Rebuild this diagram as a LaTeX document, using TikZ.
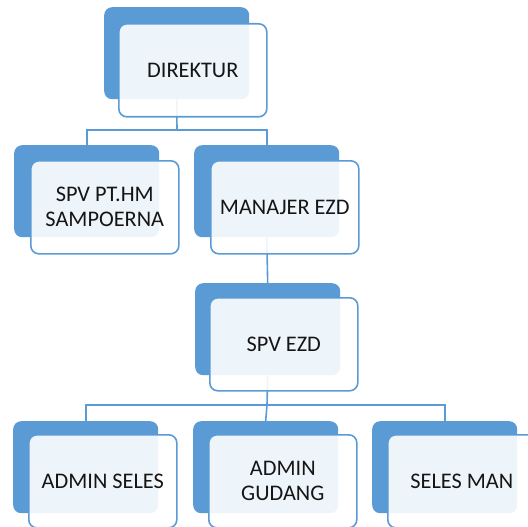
\documentclass[tikz,border=0pt]{standalone}
\usepackage{fontspec}
\setmainfont{Carlito}
\definecolor{accblue}{HTML}{5B9BD5}
\definecolor{txt}{HTML}{151515}
\begin{document}
\begin{tikzpicture}[x=1pt,y=-1pt,
  backbox/.style={fill=accblue, draw=none, rounded corners=8pt, minimum width=145pt, minimum height=92pt, anchor=north west, inner sep=0pt},
  frontbox/.style={fill=white, fill opacity=0.9, text opacity=1, draw=accblue, line width=1.6pt, rounded corners=8pt, minimum width=148pt, minimum height=93pt, anchor=north west, inner sep=0pt, align=center, text=txt, font=\fontsize{22.3}{25}\selectfont},
  conn/.style={draw=accblue, line width=1.6pt}]
\useasboundingbox (0,0) rectangle (528,527);
\begin{scope}
\clip (0,0) rectangle (528,527);
% back boxes
\node[backbox] (d0) at (104,7) {};
\node[backbox] (s0) at (14,145) {};
\node[backbox] (m0) at (194,145) {};
\node[backbox] (e0) at (195,283) {};
\node[backbox] (a0) at (13,421) {};
\node[backbox] (g0) at (193,421) {};
\node[backbox] (sm0) at (372,421) {};
% connectors
\coordinate (j1) at (177,130);
\coordinate (j2) at (267,405);
\draw[conn] (d0.south) -- (j1);
\draw[conn] (s0.north) |- (j1) -| (m0.north);
\draw[conn] (m0.south) -- (e0.north);
\draw[conn] (e0.south) -- (j2);
\draw[conn] (a0.north) |- (j2) -| (sm0.north);
\draw[conn] (j2) -- (g0.north);
% front boxes
\node[frontbox] (d) at (118,23) {DIREKTUR};
\node[frontbox] (s) at (30,160) {SPV PT.HM\\SAMPOERNA};
\node[frontbox] (m) at (210,160) {MANAJER EZD};
\node[frontbox] (e) at (209,297) {SPV EZD};
\node[frontbox] (a) at (28,434) {ADMIN SELES};
\node[frontbox] (g) at (208,434) {ADMIN\\GUDANG};
\node[frontbox] (sm) at (387,434) {SELES MAN};
\end{scope}
\end{tikzpicture}
\end{document}
